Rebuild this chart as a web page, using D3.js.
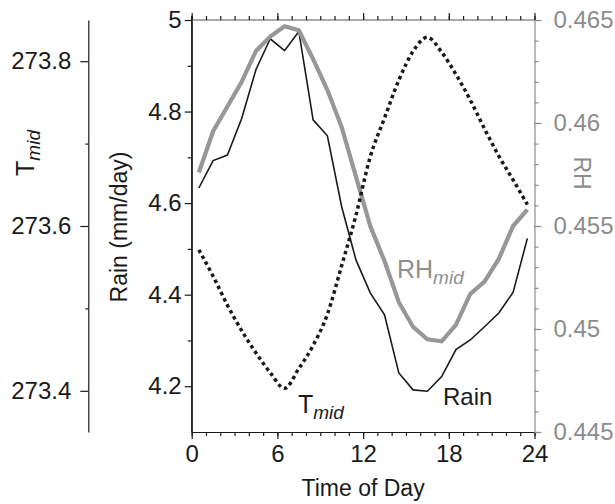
<!DOCTYPE html>
<html><head><meta charset="utf-8">
<script src="https://cdn.jsdelivr.net/npm/d3@7"></script>
<style>
html,body{margin:0;padding:0;background:#fff;}
svg{display:block;font-family:"Liberation Sans",Arial,Helvetica,sans-serif;}
</style></head>
<body>
<svg id="chart" width="615" height="504"></svg>
<script>
// ---- data ----
const hours = [0.5,1.5,2.5,3.5,4.5,5.5,6.5,7.5,8.5,9.5,10.5,11.5,12.5,13.5,14.5,15.5,16.5,17.5,18.5,19.5,20.5,21.5,22.5,23.5];
const rain = [4.633,4.693,4.705,4.785,4.892,4.959,4.933,4.975,4.782,4.747,4.592,4.476,4.404,4.356,4.229,4.192,4.189,4.221,4.280,4.301,4.330,4.360,4.405,4.523];
const rhMid = [0.4576,0.4596,0.4608,0.4620,0.4635,0.4642,0.4647,0.4645,0.4631,0.4616,0.4598,0.4574,0.4550,0.4533,0.4513,0.4501,0.4495,0.4494,0.4502,0.4517,0.4523,0.4534,0.4550,0.4558];
const tMid = [273.571,273.539,273.504,273.473,273.446,273.422,273.403,273.427,273.455,273.493,273.552,273.613,273.684,273.731,273.777,273.812,273.829,273.811,273.784,273.753,273.718,273.685,273.656,273.626];

const xTicks = [0,6,12,18,24];
const xMinor = d3.range(0,25,1);
const rainTicks = [4.2,4.4,4.6,4.8,5.0];
const rainTickLabels = ["4.2","4.4","4.6","4.8","5"];
const rainMinor = [4.3,4.5,4.7,4.9];
const rhTicks = [0.445,0.45,0.455,0.46,0.465];
const rhTickLabels = ["0.445","0.45","0.455","0.46","0.465"];
const rhMinor = d3.range(0,21).map(i => 0.445 + i*0.001);
const tTicks = [273.4,273.6,273.8];
const tTickLabels = ["273.4","273.6","273.8"];
const tMinor = [273.5,273.7];

// ---- layout ----
const L = 191.7, R = 534.5, T = 20, B = 432;
const GRAY = "#8c8c8c";
const INK = "#1a1a1a";
const FS = 24;

const svg = d3.select("#chart");
const x = d3.scaleLinear().domain([0,24]).range([L,R]);
const yRain = d3.scaleLinear().domain([4.1,5.0]).range([B,T]);
const yRH = d3.scaleLinear().domain([0.445,0.465]).range([B,T]);
const yT = d3.scaleLinear().domain([273.35,273.85]).range([B,T]);

function style(g, color){
  g.selectAll("path.domain").attr("stroke", color).attr("stroke-width",1.2);
  g.selectAll(".tick line").attr("stroke", color).attr("stroke-width",1.2);
  g.selectAll(".tick text").attr("fill", color).style("font-size", FS+"px")
    .style("font-family",'"Liberation Sans",Arial,sans-serif');
}

// top axis (gray frame, black ticks)
svg.append("line").attr("x1",L).attr("x2",R).attr("y1",T).attr("y2",T).attr("stroke",GRAY).attr("stroke-width",1.4);
const gTopMinor = svg.append("g").attr("transform",`translate(0,${T})`)
  .call(d3.axisTop(x).tickValues(xMinor).tickSize(4).tickFormat("").tickSizeOuter(0));
gTopMinor.select("path.domain").remove(); style(gTopMinor, INK);
const gTopMajor = svg.append("g").attr("transform",`translate(0,${T})`)
  .call(d3.axisTop(x).tickValues(xTicks).tickSize(7).tickFormat("").tickSizeOuter(0));
gTopMajor.select("path.domain").remove(); style(gTopMajor, INK);

// bottom axis
const gBotMinor = svg.append("g").attr("transform",`translate(0,${B})`)
  .call(d3.axisBottom(x).tickValues(xMinor).tickSize(4).tickFormat("").tickSizeOuter(0));
style(gBotMinor, INK);
const gBot = svg.append("g").attr("transform",`translate(0,${B})`)
  .call(d3.axisBottom(x).tickValues(xTicks).tickSize(7).tickPadding(6).tickFormat(d3.format("d")).tickSizeOuter(0));
gBot.select("path.domain").remove(); style(gBot, INK);

// left rain axis
const gRainMinor = svg.append("g").attr("transform",`translate(${L},0)`)
  .call(d3.axisLeft(yRain).tickValues(rainMinor).tickSize(4).tickFormat("").tickSizeOuter(0));
style(gRainMinor, INK);
const gRain = svg.append("g").attr("transform",`translate(${L},0)`)
  .call(d3.axisLeft(yRain).tickValues(rainTicks).tickSize(7).tickPadding(3)
    .tickFormat((d,i)=>rainTickLabels[i]).tickSizeOuter(0));
gRain.select("path.domain").remove(); style(gRain, INK);
svg.append("line").attr("x1",L).attr("x2",L).attr("y1",T-4).attr("y2",B).attr("stroke",INK).attr("stroke-width",1.2);

// right RH axis
const gRHMinor = svg.append("g").attr("transform",`translate(${R},0)`)
  .call(d3.axisRight(yRH).tickValues(rhMinor).tickSize(4).tickFormat("").tickSizeOuter(0));
style(gRHMinor, GRAY);
const gRH = svg.append("g").attr("transform",`translate(${R},0)`)
  .call(d3.axisRight(yRH).tickValues(rhTicks).tickSize(7).tickPadding(12)
    .tickFormat((d,i)=>rhTickLabels[i]).tickSizeOuter(0));
gRH.select("path.domain").remove(); style(gRH, GRAY);

// far-left T axis
const TX = 88.3;
const gTMinor = svg.append("g").attr("transform",`translate(${TX},0)`)
  .call(d3.axisLeft(yT).tickValues(tMinor).tickSize(3).tickFormat("").tickSizeOuter(0));
style(gTMinor, INK);
const gT = svg.append("g").attr("transform",`translate(${TX},0)`)
  .call(d3.axisLeft(yT).tickValues(tTicks).tickSize(8).tickPadding(9)
    .tickFormat((d,i)=>tTickLabels[i]).tickSizeOuter(0));
gT.select("path.domain").remove(); style(gT, INK);

// ---- series ----
const lineRain = d3.line().x((d,i)=>x(hours[i])).y(d=>yRain(d));
const lineRH = d3.line().x((d,i)=>x(hours[i])).y(d=>yRH(d));
const lineT = d3.line().x((d,i)=>x(hours[i])).y(d=>yT(d)).curve(d3.curveMonotoneX);

svg.append("path").datum(rain).attr("d",lineRain).attr("fill","none")
  .attr("stroke",INK).attr("stroke-width",1.6).attr("stroke-linejoin","miter");
svg.append("path").datum(rhMid).attr("d",lineRH).attr("fill","none")
  .attr("stroke","#979797").attr("stroke-width",4.2).attr("stroke-linejoin","miter");
svg.append("path").datum(tMid).attr("d",lineT).attr("fill","none")
  .attr("stroke",INK).attr("stroke-width",3.5).attr("stroke-dasharray","3.5,3.3");

// ---- labels ----
function subLabel(g, main, sub, color, fs, sfs){
  const t = g.append("text").attr("fill",color).style("font-size",fs+"px");
  t.append("tspan").text(main);
  t.append("tspan").text(sub).style("font-size",sfs+"px").style("font-style","italic").attr("dy","0.3em");
  return t;
}
// x title
svg.append("text").attr("x",(L+R)/2).attr("y",496).attr("text-anchor","middle")
  .attr("fill",INK).style("font-size","23px").text("Time of Day");
// rain title
svg.append("text").attr("transform","translate(127,227) rotate(-90)").attr("text-anchor","middle")
  .attr("fill",INK).style("font-size","23px").text("Rain (mm/day)");
// RH title
svg.append("text").attr("transform","translate(574,173) rotate(90)").attr("text-anchor","middle")
  .attr("fill",GRAY).style("font-size","23px").text("RH");
// T title
const gTT = svg.append("g").attr("transform","translate(34,153) rotate(-90)");
subLabel(gTT,"T","mid",INK,25,19).attr("text-anchor","middle");

// in-plot labels
const g1 = svg.append("g").attr("transform","translate(298,413)");
subLabel(g1,"T","mid",INK,25,19);
const g2 = svg.append("g").attr("transform","translate(397,278)");
subLabel(g2,"RH","mid","#8f8f8f",25,19);
svg.append("text").attr("x",443).attr("y",405).attr("fill",INK).style("font-size","24px").text("Rain");
</script>
</body></html>
